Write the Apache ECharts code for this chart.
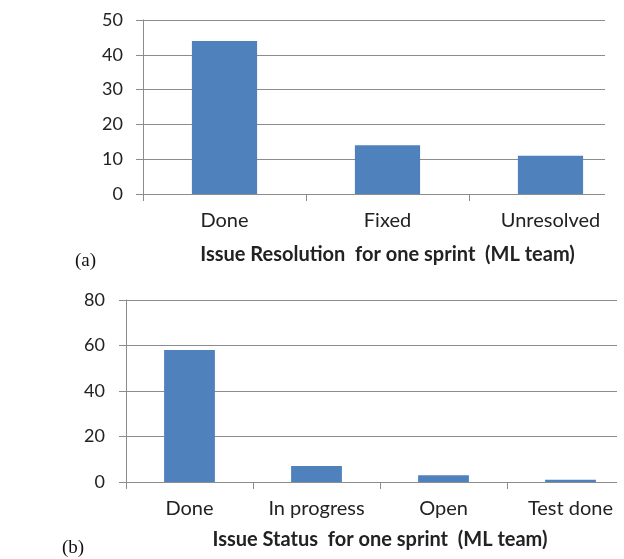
<!DOCTYPE html>
<html>
<head>
<meta charset="utf-8">
<script src="https://cdn.jsdelivr.net/npm/echarts@6/dist/echarts.min.js"></script>
<style>
  html, body { margin: 0; padding: 0; background: #fff; overflow: hidden; }
  /* wider than the window: the last category runs off the right edge */
  #chart { width: 660px; height: 559px; }
</style>
</head>
<body>
<div id="chart"></div>
<script>
  // (a) issue resolution
  const resolutionCats = ['Done', 'Fixed', 'Unresolved'];
  const resolutionVals = [44, 14, 11];
  const resolutionTicks = [0, 10, 20, 30, 40, 50];

  // (b) issue status
  const statusCats = ['Done', 'In progress', 'Open', 'Test done'];
  const statusVals = [58, 7, 3, 1];
  const statusTicks = [0, 20, 40, 60, 80];

  const FONT = 'Lato';
  const TEXT = '#222';
  const GRID_LINE = '#8c8c8c';
  const BAR = '#4f81bd';

  // grid for gridlines + y axis, and one for bars
  function lineYAxis(gridIndex, ticks, margin) {
    return {
      type: 'value', gridIndex: gridIndex,
      min: ticks[0], max: ticks[ticks.length - 1], interval: ticks[1] - ticks[0],
      axisLine: { show: true, lineStyle: { color: GRID_LINE, width: 1 } },
      axisTick: { show: true, length: 7, lineStyle: { color: GRID_LINE } },
      splitLine: { show: true, lineStyle: { color: GRID_LINE, width: 1 } },
      axisLabel: { fontFamily: FONT, fontSize: 18, color: TEXT, margin: margin }
    };
  }
  function hiddenYAxis(gridIndex, ticks) {
    return {
      type: 'value', gridIndex: gridIndex, show: false,
      min: ticks[0], max: ticks[ticks.length - 1], interval: ticks[1] - ticks[0]
    };
  }
  function barXAxis(gridIndex, cats, title, gap) {
    return {
      type: 'category', gridIndex: gridIndex, data: cats,
      axisLine: { show: false },
      axisTick: { show: true, length: 7, alignWithLabel: false, lineStyle: { color: GRID_LINE } },
      axisLabel: { fontFamily: FONT, fontSize: 20, color: TEXT, margin: 17, interval: 0 },
      name: title, nameLocation: 'middle', nameGap: gap,
      nameTextStyle: { fontFamily: FONT, fontSize: 20, fontWeight: 'bold', color: TEXT }
    };
  }

  const option = {
    animation: false,
    backgroundColor: '#fff',
    grid: [
      { left: 143, top: 20, width: 462, height: 174 },
      { left: 143, top: 20, width: 489, height: 174 },
      { left: 126, top: 300, width: 491, height: 182 },
      { left: 126, top: 300, width: 508, height: 182 }
    ],
    xAxis: [
      { type: 'category', gridIndex: 0, data: resolutionCats, show: false },
      barXAxis(1, resolutionCats, 'Issue Resolution  for one sprint  (ML team)', 51),
      { type: 'category', gridIndex: 2, data: statusCats, show: false },
      barXAxis(3, statusCats, 'Issue Status  for one sprint  (ML team)', 48)
    ],
    yAxis: [
      lineYAxis(0, resolutionTicks, 20),
      hiddenYAxis(1, resolutionTicks),
      lineYAxis(2, statusTicks, 21),
      hiddenYAxis(3, statusTicks)
    ],
    series: [
      {
        type: 'bar', xAxisIndex: 1, yAxisIndex: 1, data: resolutionVals,
        barWidth: '40%', itemStyle: { color: BAR }
      },
      {
        type: 'bar', xAxisIndex: 3, yAxisIndex: 3, data: statusVals,
        barWidth: '40%', itemStyle: { color: BAR }
      }
    ],
    graphic: [
      { type: 'text', left: 75, top: 252,
        style: { text: '(a)', font: '19px "Liberation Serif"', fill: '#111' } },
      { type: 'text', left: 62, top: 539,
        style: { text: '(b)', font: '19px "Liberation Serif"', fill: '#111' } }
    ]
  };

  const chart = echarts.init(document.getElementById('chart'));
  chart.setOption(option);
  window.addEventListener('resize', function () {
    chart.resize();
  });
</script>
</body>
</html>
